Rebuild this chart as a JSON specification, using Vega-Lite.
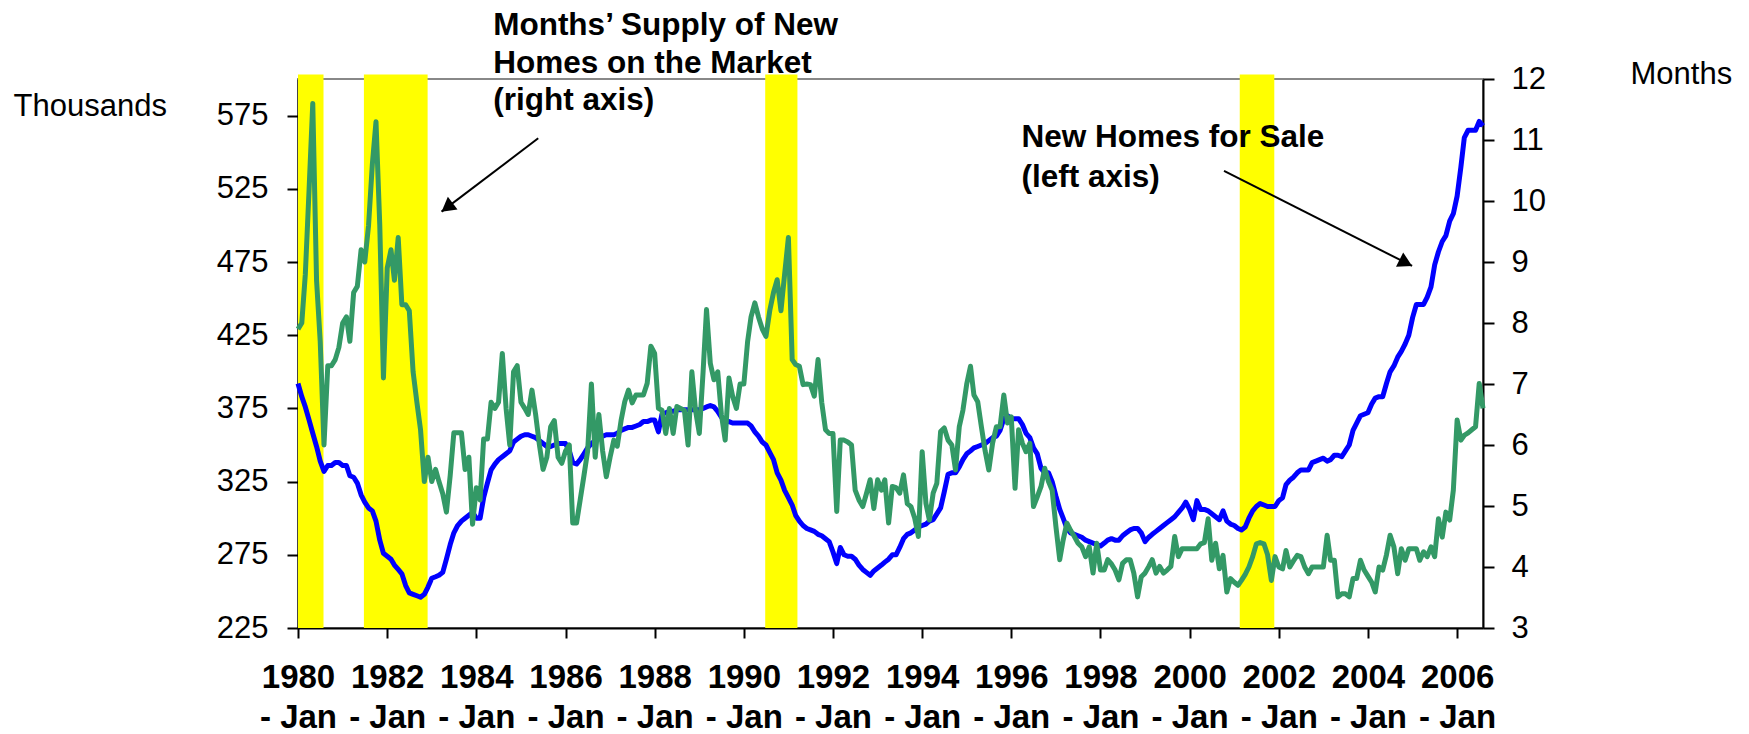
{
"$schema":"https://vega.github.io/schema/vega-lite/v6.json",
"width":1185,"height":549,
"autosize":{"type":"none"},
"padding":{"left":298,"top":79,"right":266,"bottom":106},
"background":"white",
"config":{
 "view":{"stroke":"#888888","strokeWidth":2},
 "font":"Liberation Sans",
 "axis":{"domainColor":"#000000","domainWidth":2,"tickColor":"#000000","tickWidth":2,"labelColor":"#000000","titleColor":"#000000","labelFont":"Liberation Sans","titleFont":"Liberation Sans","grid":false,"zindex":1,"labelOverlap":false,"labelFlush":false}
},
"datasets":{
 "recessions":[
  {"start":"1980-01-01","end":"1980-07-28"},
  {"start":"1981-06-24","end":"1982-11-28"},
  {"start":"1990-06-25","end":"1991-03-16"},
  {"start":"2001-02-15","end":"2001-11-25"}
 ],
 "note1":[{"date":"1984-05-18","value":647,"label":["Months’ Supply of New","Homes on the Market","(right axis)"]}],
 "note2":[{"date":"1996-03-25","value":570.8,"label":["New Homes for Sale","(left axis)"]}],
 "arrows":[
  {"arrow":1,"x":"1985-05-22","y":559.5,"x2":"1983-03-22","y2":509.4},
  {"arrow":2,"x":"2000-10-09","y":537.2,"x2":"2004-12-28","y2":472.3}
 ],
 "series":[
{"date":"1980-01-01","homes":392,"supply":7.9},{"date":"1980-02-01","homes":383,"supply":8.0},{"date":"1980-03-01","homes":376,"supply":8.8},{"date":"1980-04-01","homes":367,"supply":10.2},{"date":"1980-05-01","homes":358,"supply":11.6},{"date":"1980-06-01","homes":349,"supply":8.7},{"date":"1980-07-01","homes":339,"supply":7.7},{"date":"1980-08-01","homes":332,"supply":6.0},{"date":"1980-09-01","homes":336,"supply":7.3},{"date":"1980-10-01","homes":336,"supply":7.3},{"date":"1980-11-01","homes":338,"supply":7.4},{"date":"1980-12-01","homes":338,"supply":7.6},
{"date":"1981-01-01","homes":336,"supply":8.0},{"date":"1981-02-01","homes":336,"supply":8.1},{"date":"1981-03-01","homes":329,"supply":7.7},{"date":"1981-04-01","homes":328,"supply":8.5},{"date":"1981-05-01","homes":324,"supply":8.6},{"date":"1981-06-01","homes":316,"supply":9.2},{"date":"1981-07-01","homes":311,"supply":9.0},{"date":"1981-08-01","homes":307,"supply":9.6},{"date":"1981-09-01","homes":305,"supply":10.6},{"date":"1981-10-01","homes":298,"supply":11.3},{"date":"1981-11-01","homes":285,"supply":9.6},{"date":"1981-12-01","homes":276,"supply":7.1},
{"date":"1982-01-01","homes":274,"supply":8.9},{"date":"1982-02-01","homes":272,"supply":9.2},{"date":"1982-03-01","homes":268,"supply":8.7},{"date":"1982-04-01","homes":265,"supply":9.4},{"date":"1982-05-01","homes":262,"supply":8.3},{"date":"1982-06-01","homes":254,"supply":8.3},{"date":"1982-07-01","homes":249,"supply":8.2},{"date":"1982-08-01","homes":248,"supply":7.2},{"date":"1982-09-01","homes":247,"supply":6.7},{"date":"1982-10-01","homes":246,"supply":6.25},{"date":"1982-11-01","homes":248,"supply":5.4},{"date":"1982-12-01","homes":253,"supply":5.8},
{"date":"1983-01-01","homes":259,"supply":5.4},{"date":"1983-02-01","homes":260,"supply":5.6},{"date":"1983-03-01","homes":261,"supply":5.4},{"date":"1983-04-01","homes":263,"supply":5.2},{"date":"1983-05-01","homes":272,"supply":4.9},{"date":"1983-06-01","homes":282,"supply":5.5},{"date":"1983-07-01","homes":290,"supply":6.2},{"date":"1983-08-01","homes":295,"supply":6.2},{"date":"1983-09-01","homes":298,"supply":6.2},{"date":"1983-10-01","homes":300,"supply":5.6},{"date":"1983-11-01","homes":302,"supply":5.8},{"date":"1983-12-01","homes":304,"supply":4.7},
{"date":"1984-01-01","homes":300,"supply":5.3},{"date":"1984-02-01","homes":300,"supply":5.1},{"date":"1984-03-01","homes":314,"supply":6.1},{"date":"1984-04-01","homes":324,"supply":6.1},{"date":"1984-05-01","homes":333,"supply":6.7},{"date":"1984-06-01","homes":337,"supply":6.6},{"date":"1984-07-01","homes":340,"supply":6.7},{"date":"1984-08-01","homes":342,"supply":7.5},{"date":"1984-09-01","homes":344,"supply":6.6},{"date":"1984-10-01","homes":346,"supply":6.0},{"date":"1984-11-01","homes":352,"supply":7.2},{"date":"1984-12-01","homes":354,"supply":7.3},
{"date":"1985-01-01","homes":356,"supply":6.7},{"date":"1985-02-01","homes":357,"supply":6.6},{"date":"1985-03-01","homes":357,"supply":6.5},{"date":"1985-04-01","homes":356,"supply":6.9},{"date":"1985-05-01","homes":355,"supply":6.5},{"date":"1985-06-01","homes":353,"supply":6.0},{"date":"1985-07-01","homes":351,"supply":5.6},{"date":"1985-08-01","homes":349,"supply":5.8},{"date":"1985-09-01","homes":349,"supply":6.3},{"date":"1985-10-01","homes":350,"supply":6.4},{"date":"1985-11-01","homes":351,"supply":5.8},{"date":"1985-12-01","homes":351,"supply":5.7},
{"date":"1986-01-01","homes":351,"supply":5.9},{"date":"1986-02-01","homes":346,"supply":6.0},{"date":"1986-03-01","homes":338,"supply":4.72},{"date":"1986-04-01","homes":337,"supply":4.72},{"date":"1986-05-01","homes":340,"supply":5.1},{"date":"1986-06-01","homes":344,"supply":5.5},{"date":"1986-07-01","homes":348,"supply":5.9},{"date":"1986-08-01","homes":351,"supply":7.0},{"date":"1986-09-01","homes":353,"supply":5.8},{"date":"1986-10-01","homes":355,"supply":6.5},{"date":"1986-11-01","homes":356,"supply":5.9},{"date":"1986-12-01","homes":357,"supply":5.48},
{"date":"1987-01-01","homes":357,"supply":5.8},{"date":"1987-02-01","homes":357,"supply":6.08},{"date":"1987-03-01","homes":358,"supply":5.98},{"date":"1987-04-01","homes":360,"supply":6.4},{"date":"1987-05-01","homes":361,"supply":6.71},{"date":"1987-06-01","homes":362,"supply":6.9},{"date":"1987-07-01","homes":362,"supply":6.69},{"date":"1987-08-01","homes":363,"supply":6.82},{"date":"1987-09-01","homes":364,"supply":6.82},{"date":"1987-10-01","homes":366,"supply":6.82},{"date":"1987-11-01","homes":366,"supply":7.01},{"date":"1987-12-01","homes":367,"supply":7.62},
{"date":"1988-01-01","homes":367,"supply":7.5},{"date":"1988-02-01","homes":359,"supply":6.6},{"date":"1988-03-01","homes":371,"supply":6.57},{"date":"1988-04-01","homes":372,"supply":6.19},{"date":"1988-05-01","homes":373,"supply":6.6},{"date":"1988-06-01","homes":373,"supply":6.19},{"date":"1988-07-01","homes":374,"supply":6.63},{"date":"1988-08-01","homes":374,"supply":6.6},{"date":"1988-09-01","homes":374,"supply":6.57},{"date":"1988-10-01","homes":374,"supply":6.0},{"date":"1988-11-01","homes":374,"supply":7.2},{"date":"1988-12-01","homes":374,"supply":6.57},
{"date":"1989-01-01","homes":374,"supply":6.19},{"date":"1989-02-01","homes":375,"supply":7.2},{"date":"1989-03-01","homes":376,"supply":8.22},{"date":"1989-04-01","homes":377,"supply":7.34},{"date":"1989-05-01","homes":376,"supply":7.07},{"date":"1989-06-01","homes":373,"supply":7.2},{"date":"1989-07-01","homes":369,"supply":6.5},{"date":"1989-08-01","homes":367,"supply":6.08},{"date":"1989-09-01","homes":366,"supply":7.1},{"date":"1989-10-01","homes":365,"supply":6.8},{"date":"1989-11-01","homes":365,"supply":6.6},{"date":"1989-12-01","homes":365,"supply":7.0},
{"date":"1990-01-01","homes":365,"supply":7.0},{"date":"1990-02-01","homes":365,"supply":7.7},{"date":"1990-03-01","homes":363,"supply":8.1},{"date":"1990-04-01","homes":359,"supply":8.33},{"date":"1990-05-01","homes":356,"supply":8.1},{"date":"1990-06-01","homes":352,"supply":7.9},{"date":"1990-07-01","homes":350,"supply":7.78},{"date":"1990-08-01","homes":345,"supply":8.2},{"date":"1990-09-01","homes":340,"supply":8.5},{"date":"1990-10-01","homes":331,"supply":8.71},{"date":"1990-11-01","homes":326,"supply":8.2},{"date":"1990-12-01","homes":319,"supply":8.8},
{"date":"1991-01-01","homes":314,"supply":9.4},{"date":"1991-02-01","homes":309,"supply":7.4},{"date":"1991-03-01","homes":302,"supply":7.32},{"date":"1991-04-01","homes":298,"supply":7.29},{"date":"1991-05-01","homes":295,"supply":6.99},{"date":"1991-06-01","homes":293,"supply":7.0},{"date":"1991-07-01","homes":292,"supply":6.99},{"date":"1991-08-01","homes":291,"supply":6.8},{"date":"1991-09-01","homes":289,"supply":7.4},{"date":"1991-10-01","homes":288,"supply":6.7},{"date":"1991-11-01","homes":286,"supply":6.25},{"date":"1991-12-01","homes":284,"supply":6.19},
{"date":"1992-01-01","homes":277,"supply":6.19},{"date":"1992-02-01","homes":269,"supply":4.91},{"date":"1992-03-01","homes":280,"supply":6.08},{"date":"1992-04-01","homes":275,"supply":6.08},{"date":"1992-05-01","homes":274,"supply":6.05},{"date":"1992-06-01","homes":274,"supply":6.0},{"date":"1992-07-01","homes":272,"supply":5.26},{"date":"1992-08-01","homes":268,"supply":5.1},{"date":"1992-09-01","homes":265,"supply":4.99},{"date":"1992-10-01","homes":263,"supply":5.2},{"date":"1992-11-01","homes":261,"supply":5.43},{"date":"1992-12-01","homes":264,"supply":4.96},
{"date":"1993-01-01","homes":266,"supply":5.43},{"date":"1993-02-01","homes":268,"supply":5.26},{"date":"1993-03-01","homes":270,"supply":5.43},{"date":"1993-04-01","homes":272,"supply":4.72},{"date":"1993-05-01","homes":275,"supply":5.32},{"date":"1993-06-01","homes":275,"supply":5.3},{"date":"1993-07-01","homes":280,"supply":5.21},{"date":"1993-08-01","homes":286,"supply":5.51},{"date":"1993-09-01","homes":289,"supply":5.04},{"date":"1993-10-01","homes":290,"supply":4.99},{"date":"1993-11-01","homes":292,"supply":4.8},{"date":"1993-12-01","homes":294,"supply":4.5},
{"date":"1994-01-01","homes":295,"supply":5.89},{"date":"1994-02-01","homes":296,"supply":5.04},{"date":"1994-03-01","homes":298,"supply":4.77},{"date":"1994-04-01","homes":299,"supply":5.21},{"date":"1994-05-01","homes":303,"supply":5.37},{"date":"1994-06-01","homes":307,"supply":6.22},{"date":"1994-07-01","homes":318,"supply":6.28},{"date":"1994-08-01","homes":330,"supply":6.08},{"date":"1994-09-01","homes":331,"supply":6.0},{"date":"1994-10-01","homes":331,"supply":5.59},{"date":"1994-11-01","homes":335,"supply":6.3},{"date":"1994-12-01","homes":340,"supply":6.57},
{"date":"1995-01-01","homes":344,"supply":7.0},{"date":"1995-02-01","homes":346,"supply":7.29},{"date":"1995-03-01","homes":348,"supply":6.82},{"date":"1995-04-01","homes":349,"supply":6.71},{"date":"1995-05-01","homes":350,"supply":6.3},{"date":"1995-06-01","homes":351,"supply":5.9},{"date":"1995-07-01","homes":353,"supply":5.59},{"date":"1995-08-01","homes":355,"supply":6.03},{"date":"1995-09-01","homes":356,"supply":6.3},{"date":"1995-10-01","homes":360,"supply":6.3},{"date":"1995-11-01","homes":368,"supply":6.82},{"date":"1995-12-01","homes":370,"supply":6.36},
{"date":"1996-01-01","homes":368,"supply":6.46},{"date":"1996-02-01","homes":368,"supply":5.29},{"date":"1996-03-01","homes":368,"supply":6.25},{"date":"1996-04-01","homes":364,"supply":6.03},{"date":"1996-05-01","homes":358,"supply":5.89},{"date":"1996-06-01","homes":355,"supply":6.03},{"date":"1996-07-01","homes":348,"supply":4.99},{"date":"1996-08-01","homes":344,"supply":5.15},{"date":"1996-09-01","homes":334,"supply":5.32},{"date":"1996-10-01","homes":331,"supply":5.62},{"date":"1996-11-01","homes":331,"supply":5.4},{"date":"1996-12-01","homes":325,"supply":5.26},
{"date":"1997-01-01","homes":315,"supply":4.66},{"date":"1997-02-01","homes":306,"supply":4.12},{"date":"1997-03-01","homes":300,"supply":4.44},{"date":"1997-04-01","homes":293,"supply":4.72},{"date":"1997-05-01","homes":290,"supply":4.6},{"date":"1997-06-01","homes":289,"supply":4.5},{"date":"1997-07-01","homes":288,"supply":4.39},{"date":"1997-08-01","homes":287,"supply":4.33},{"date":"1997-09-01","homes":285,"supply":4.17},{"date":"1997-10-01","homes":284,"supply":4.33},{"date":"1997-11-01","homes":283,"supply":3.9},{"date":"1997-12-01","homes":282,"supply":4.39},
{"date":"1998-01-01","homes":281,"supply":3.95},{"date":"1998-02-01","homes":283,"supply":3.95},{"date":"1998-03-01","homes":285,"supply":4.12},{"date":"1998-04-01","homes":286,"supply":4.05},{"date":"1998-05-01","homes":285,"supply":3.95},{"date":"1998-06-01","homes":285,"supply":3.79},{"date":"1998-07-01","homes":288,"supply":4.06},{"date":"1998-08-01","homes":290,"supply":4.12},{"date":"1998-09-01","homes":292,"supply":4.12},{"date":"1998-10-01","homes":293,"supply":3.9},{"date":"1998-11-01","homes":293,"supply":3.51},{"date":"1998-12-01","homes":290,"supply":3.84},
{"date":"1999-01-01","homes":284,"supply":3.9},{"date":"1999-02-01","homes":287,"supply":4.01},{"date":"1999-03-01","homes":289,"supply":4.12},{"date":"1999-04-01","homes":291,"supply":3.9},{"date":"1999-05-01","homes":293,"supply":4.01},{"date":"1999-06-01","homes":295,"supply":3.9},{"date":"1999-07-01","homes":297,"supply":3.95},{"date":"1999-08-01","homes":299,"supply":4.01},{"date":"1999-09-01","homes":301,"supply":4.5},{"date":"1999-10-01","homes":304,"supply":4.17},{"date":"1999-11-01","homes":307,"supply":4.3},{"date":"1999-12-01","homes":311,"supply":4.3},
{"date":"2000-01-01","homes":306,"supply":4.3},{"date":"2000-02-01","homes":299,"supply":4.3},{"date":"2000-03-01","homes":312,"supply":4.3},{"date":"2000-04-01","homes":306,"supply":4.38},{"date":"2000-05-01","homes":306,"supply":4.4},{"date":"2000-06-01","homes":305,"supply":4.79},{"date":"2000-07-01","homes":303,"supply":4.11},{"date":"2000-08-01","homes":301,"supply":4.39},{"date":"2000-09-01","homes":299,"supply":3.97},{"date":"2000-10-01","homes":305,"supply":4.19},{"date":"2000-11-01","homes":298,"supply":3.59},{"date":"2000-12-01","homes":296,"supply":3.81},
{"date":"2001-01-01","homes":295,"supply":3.75},{"date":"2001-02-01","homes":293,"supply":3.7},{"date":"2001-03-01","homes":292,"supply":3.78},{"date":"2001-04-01","homes":294,"supply":3.88},{"date":"2001-05-01","homes":300,"supply":4.0},{"date":"2001-06-01","homes":305,"supply":4.17},{"date":"2001-07-01","homes":308,"supply":4.38},{"date":"2001-08-01","homes":310,"supply":4.4},{"date":"2001-09-01","homes":309,"supply":4.38},{"date":"2001-10-01","homes":308,"supply":4.2},{"date":"2001-11-01","homes":308,"supply":3.78},{"date":"2001-12-01","homes":308,"supply":4.17},
{"date":"2002-01-01","homes":312,"supply":4.0},{"date":"2002-02-01","homes":314,"supply":3.97},{"date":"2002-03-01","homes":323,"supply":4.27},{"date":"2002-04-01","homes":326,"supply":4.0},{"date":"2002-05-01","homes":328,"supply":4.1},{"date":"2002-06-01","homes":331,"supply":4.19},{"date":"2002-07-01","homes":333,"supply":4.17},{"date":"2002-08-01","homes":333,"supply":4.0},{"date":"2002-09-01","homes":333,"supply":3.89},{"date":"2002-10-01","homes":338,"supply":4.0},{"date":"2002-11-01","homes":339,"supply":4.0},{"date":"2002-12-01","homes":340,"supply":4.0},
{"date":"2003-01-01","homes":341,"supply":4.0},{"date":"2003-02-01","homes":339,"supply":4.52},{"date":"2003-03-01","homes":340,"supply":4.11},{"date":"2003-04-01","homes":343,"supply":4.11},{"date":"2003-05-01","homes":343,"supply":3.51},{"date":"2003-06-01","homes":342,"supply":3.56},{"date":"2003-07-01","homes":346,"supply":3.56},{"date":"2003-08-01","homes":350,"supply":3.51},{"date":"2003-09-01","homes":360,"supply":3.81},{"date":"2003-10-01","homes":365,"supply":3.81},{"date":"2003-11-01","homes":370,"supply":4.11},{"date":"2003-12-01","homes":371,"supply":3.95},
{"date":"2004-01-01","homes":372,"supply":3.85},{"date":"2004-02-01","homes":378,"supply":3.75},{"date":"2004-03-01","homes":382,"supply":3.59},{"date":"2004-04-01","homes":383,"supply":4.0},{"date":"2004-05-01","homes":383,"supply":3.95},{"date":"2004-06-01","homes":392,"supply":4.2},{"date":"2004-07-01","homes":400,"supply":4.52},{"date":"2004-08-01","homes":404,"supply":4.33},{"date":"2004-09-01","homes":410,"supply":3.89},{"date":"2004-10-01","homes":414,"supply":4.3},{"date":"2004-11-01","homes":419,"supply":4.11},{"date":"2004-12-01","homes":425,"supply":4.3},
{"date":"2005-01-01","homes":437,"supply":4.3},{"date":"2005-02-01","homes":446,"supply":4.3},{"date":"2005-03-01","homes":446,"supply":4.11},{"date":"2005-04-01","homes":446,"supply":4.25},{"date":"2005-05-01","homes":451,"supply":4.17},{"date":"2005-06-01","homes":458,"supply":4.33},{"date":"2005-07-01","homes":473,"supply":4.17},{"date":"2005-08-01","homes":482,"supply":4.79},{"date":"2005-09-01","homes":489,"supply":4.49},{"date":"2005-10-01","homes":493,"supply":4.9},{"date":"2005-11-01","homes":503,"supply":4.77},{"date":"2005-12-01","homes":508,"supply":5.26},
{"date":"2006-01-01","homes":520,"supply":6.41},{"date":"2006-02-01","homes":540,"supply":6.08},{"date":"2006-03-01","homes":560,"supply":6.16},{"date":"2006-04-01","homes":565,"supply":6.2},{"date":"2006-05-01","homes":565,"supply":6.25},{"date":"2006-06-01","homes":565,"supply":6.3},{"date":"2006-07-01","homes":571,"supply":7.01},{"date":"2006-08-01","homes":568,"supply":6.6}
 ]
},
"layer":[
 {
  "layer":[
   {
    "data":{"name":"recessions"},
    "mark":{"type":"rect","color":"#FFFF00"},
    "encoding":{
     "x":{"field":"start","type":"temporal","scale":{"type":"utc","domain":[{"year":1980,"month":1,"date":1,"utc":true},{"year":2006,"month":8,"date":1,"utc":true}]},
      "axis":{"orient":"bottom","title":null,"values":[{"year":1980,"month":1,"date":1,"utc":true},{"year":1982,"month":1,"date":1,"utc":true},{"year":1984,"month":1,"date":1,"utc":true},{"year":1986,"month":1,"date":1,"utc":true},{"year":1988,"month":1,"date":1,"utc":true},{"year":1990,"month":1,"date":1,"utc":true},{"year":1992,"month":1,"date":1,"utc":true},{"year":1994,"month":1,"date":1,"utc":true},{"year":1996,"month":1,"date":1,"utc":true},{"year":1998,"month":1,"date":1,"utc":true},{"year":2000,"month":1,"date":1,"utc":true},{"year":2002,"month":1,"date":1,"utc":true},{"year":2004,"month":1,"date":1,"utc":true},{"year":2006,"month":1,"date":1,"utc":true}],
       "labelExpr":"[utcFormat(datum.value, '%Y'), '- Jan']","labelFontSize":33,"labelFontWeight":"bold","labelPadding":23,"labelLineHeight":40,"tickSize":10}},
     "x2":{"field":"end"},
     "y":{"datum":603,"type":"quantitative","scale":{"domain":[225,600],"nice":false,"zero":false}},
     "y2":{"datum":225}
    }
   },
   {
    "data":{"name":"series"},
    "mark":{"type":"line","color":"#0000FF","strokeWidth":5,"strokeJoin":"round"},
    "encoding":{
     "x":{"field":"date","type":"temporal","scale":{"type":"utc","domain":[{"year":1980,"month":1,"date":1,"utc":true},{"year":2006,"month":8,"date":1,"utc":true}]}},
     "y":{"field":"homes","type":"quantitative","scale":{"domain":[225,600],"nice":false,"zero":false},
      "axis":{"orient":"left","values":[225,275,325,375,425,475,525,575],"labelFontSize":31,"labelPadding":19,"tickSize":11,"title":"Thousands","titleAngle":0,"titleAlign":"left","titleBaseline":"alphabetic","titleX":-285,"titleY":36,"titleFontSize":31,"titleFontWeight":"normal"}}
    }
   },
   {
    "data":{"name":"note1"},
    "mark":{"type":"text","align":"left","baseline":"top","fontSize":31.5,"fontWeight":"bold","lineHeight":37.5,"color":"#000000"},
    "encoding":{
     "x":{"field":"date","type":"temporal","scale":{"type":"utc","domain":[{"year":1980,"month":1,"date":1,"utc":true},{"year":2006,"month":8,"date":1,"utc":true}]}},
     "y":{"field":"value","type":"quantitative","scale":{"domain":[225,600],"nice":false,"zero":false}},
     "text":{"field":"label"}
    }
   },
   {
    "data":{"name":"note2"},
    "mark":{"type":"text","align":"left","baseline":"top","fontSize":31.5,"fontWeight":"bold","lineHeight":40,"color":"#000000"},
    "encoding":{
     "x":{"field":"date","type":"temporal","scale":{"type":"utc","domain":[{"year":1980,"month":1,"date":1,"utc":true},{"year":2006,"month":8,"date":1,"utc":true}]}},
     "y":{"field":"value","type":"quantitative","scale":{"domain":[225,600],"nice":false,"zero":false}},
     "text":{"field":"label"}
    }
   },
   {
    "data":{"name":"arrows"},
    "mark":{"type":"rule","color":"#000000","strokeWidth":2},
    "encoding":{
     "x":{"field":"x","type":"temporal","scale":{"type":"utc","domain":[{"year":1980,"month":1,"date":1,"utc":true},{"year":2006,"month":8,"date":1,"utc":true}]}},
     "y":{"field":"y","type":"quantitative","scale":{"domain":[225,600],"nice":false,"zero":false}},
     "x2":{"field":"x2"},
     "y2":{"field":"y2"}
    }
   },
   {
    "data":{"name":"arrows"},
    "transform":[{"filter":"datum.arrow == 1"}],
    "mark":{"type":"point","shape":"M0,0L-0.8,1.4L0.8,1.4Z","size":400,"filled":true,"color":"#000000","opacity":1,"strokeWidth":0,"angle":232.8},
    "encoding":{
     "x":{"field":"x2","type":"temporal","scale":{"type":"utc","domain":[{"year":1980,"month":1,"date":1,"utc":true},{"year":2006,"month":8,"date":1,"utc":true}]}},
     "y":{"field":"y2","type":"quantitative","scale":{"domain":[225,600],"nice":false,"zero":false}}
    }
   },
   {
    "data":{"name":"arrows"},
    "transform":[{"filter":"datum.arrow == 2"}],
    "mark":{"type":"point","shape":"M0,0L-0.8,1.4L0.8,1.4Z","size":400,"filled":true,"color":"#000000","opacity":1,"strokeWidth":0,"angle":116.8},
    "encoding":{
     "x":{"field":"x2","type":"temporal","scale":{"type":"utc","domain":[{"year":1980,"month":1,"date":1,"utc":true},{"year":2006,"month":8,"date":1,"utc":true}]}},
     "y":{"field":"y2","type":"quantitative","scale":{"domain":[225,600],"nice":false,"zero":false}}
    }
   }
  ]
 },
 {
  "data":{"name":"series"},
  "mark":{"type":"line","color":"#339966","strokeWidth":5,"strokeJoin":"round"},
  "encoding":{
   "x":{"field":"date","type":"temporal","scale":{"type":"utc","domain":[{"year":1980,"month":1,"date":1,"utc":true},{"year":2006,"month":8,"date":1,"utc":true}]}},
   "y":{"field":"supply","type":"quantitative","scale":{"domain":[3,12],"nice":false,"zero":false},
    "axis":{"orient":"right","values":[3,4,5,6,7,8,9,10,11,12],"labelFontSize":31,"labelPadding":17,"tickSize":11,"title":"Months","titleAngle":0,"titleAlign":"left","titleBaseline":"alphabetic","titleX":147,"titleY":4,"titleFontSize":31,"titleFontWeight":"normal"}}
  }
 }
],
"resolve":{"scale":{"y":"independent"}}
}
